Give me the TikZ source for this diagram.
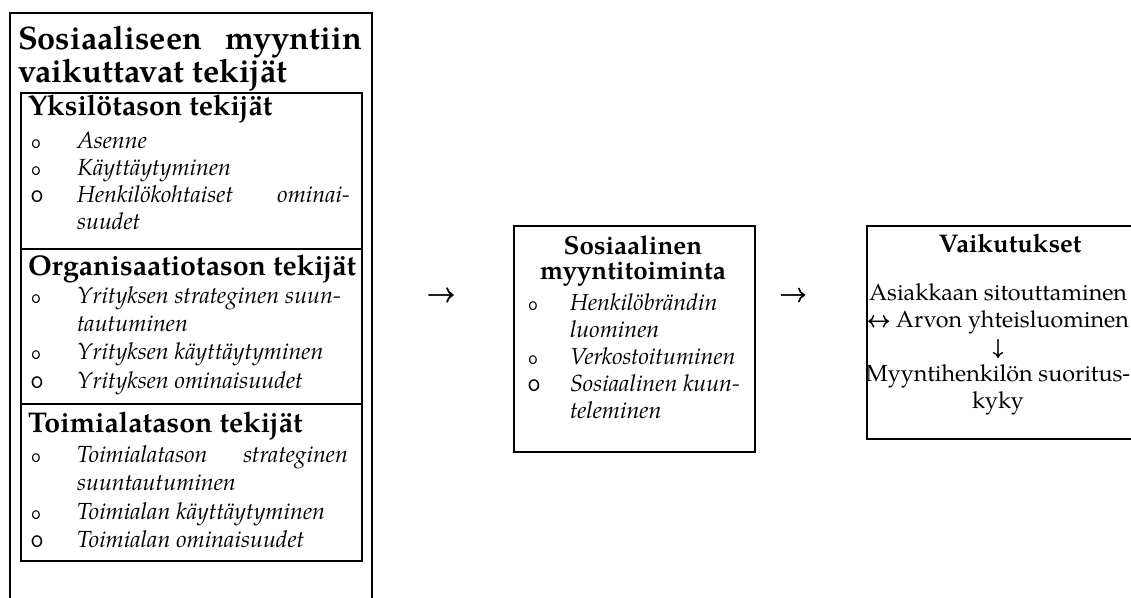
\documentclass[tikz,border=0pt]{standalone}
\usepackage{fontspec}
\setmainfont{texgyrepagella}[Extension=.otf,UprightFont=*-regular,BoldFont=*-bold,ItalicFont=*-italic,BoldItalicFont=*-bolditalic]
\newfontfamily\arrowfont{latinmodern-math}[Extension=.otf,FakeBold=2]
\newcommand\titlesz{\fontsize{32.5}{36}\selectfont}
\newcommand\headsz{\fontsize{28.5}{32}\selectfont}
\newcommand\midheadsz{\fontsize{26}{30}\selectfont}
\newcommand\bodysz{\fontsize{23.3}{28}\selectfont}
\tikzset{
  frame/.style={draw, line width=1.6pt, rectangle, inner sep=0pt, anchor=north west},
  txt/.style={inner sep=0pt, outer sep=0pt, anchor=base west},
  title/.style={txt, font=\titlesz\bfseries},
  head/.style={txt, font=\headsz\bfseries},
  midhead/.style={txt, anchor=base, font=\midheadsz\bfseries},
  item/.style={txt, font=\bodysz\itshape},
  body/.style={txt, anchor=base, font=\bodysz},
  bul/.style={inner sep=0pt, anchor=base, text height=1ex, text depth=0pt, font=\ttfamily\fontsize{20}{22}\selectfont},
  bigbul/.style={inner sep=0pt, anchor=base, text height=1ex, text depth=0pt, font=\ttfamily\fontsize{27}{30}\selectfont},
  arrowglyph/.style={inner sep=0pt, font=\arrowfont\fontsize{29}{32}\selectfont}
}
\begin{document}
\begin{tikzpicture}[x=1pt,y=-1pt]
\useasboundingbox (0,0) rectangle (1131,597);
\clip (0,0) rectangle (1131,597);
% boxes
\node[frame, minimum width=362pt, minimum height=600pt] (outer) at (9,12) {};
\node[frame, minimum width=341pt, minimum height=156pt] (ind) at (20,92) {};
\node[frame, minimum width=341pt, minimum height=155pt] (org) at (20,248) {};
\node[frame, minimum width=341pt, minimum height=157pt] (ala) at (20,403) {};
\node[frame, minimum width=241pt, minimum height=226pt] (act) at (513,225) {};
\node[frame, minimum width=280pt, minimum height=213pt] (eff) at (866,225) {};
% title
\node[title] (t1) at (18,49) {\makebox[344pt][s]{Sosiaaliseen myyntiin}};
\node[title] (t2) at (18,82) {vaikuttavat tekijät};
% individual level
\node[head] (h1) at (28,115) {Yksilötason tekijät};
\node[bul] (b11) at (36,148) {o};
\node[item] (i11) at (77,148) {Asenne};
\node[bul] (b12) at (36,175) {o};
\node[item] (i12) at (77,175) {Käyttäytyminen};
\node[bigbul] (b13) at (37,202) {o};
\node[item] (i13) at (77,202) {\makebox[273pt][s]{Henkilökohtaiset ominai-}};
\node[item] (i13b) at (77,229) {suudet};
% organisational level
\node[head] (h2) at (28,275) {Organisaatiotason tekijät};
\node[bul] (b21) at (36,303) {o};
\node[item] (i21) at (77,303) {Yrityksen strateginen suun-};
\node[item] (i21b) at (77,331) {tautuminen};
\node[bul] (b22) at (36,359) {o};
\node[item] (i22) at (77,359) {Yrityksen käyttäytyminen};
\node[bigbul] (b23) at (37,388) {o};
\node[item] (i23) at (77,388) {Yrityksen ominaisuudet};
% industry level
\node[head] (h3) at (28,432) {Toimialatason tekijät};
\node[bul] (b31) at (36,462) {o};
\node[item] (i31) at (77,462) {\makebox[271pt][s]{Toimialatason strateginen}};
\node[item] (i31b) at (77,490) {suuntautuminen};
\node[bul] (b32) at (36,519) {o};
\node[item] (i32) at (77,519) {Toimialan käyttäytyminen};
\node[bigbul] (b33) at (37,547) {o};
\node[item] (i33) at (77,547) {Toimialan ominaisuudet};
% arrows
\node[arrowglyph] (a1) at (441,295) {\resizebox{28pt}{!}{→}};
\node[arrowglyph] (a2) at (793,295) {\resizebox{27pt}{!}{→}};
% social selling activity
\node[midhead] (m1) at (633,254) {Sosiaalinen};
\node[midhead] (m2) at (633,279) {myyntitoiminta};
\node[bul] (mb1) at (533,310) {o};
\node[item] (mi1) at (570,310) {Henkilöbrändin};
\node[item] (mi1b) at (570,337) {luominen};
\node[bul] (mb2) at (533,364) {o};
\node[item] (mi2) at (570,364) {Verkostoituminen};
\node[bigbul] (mb3) at (534,391) {o};
\node[item] (mi3) at (570,391) {Sosiaalinen kuun-};
\node[item] (mi3b) at (570,418) {teleminen};
% effects
\node[txt, anchor=base, font=\fontsize{25.5}{30}\selectfont\bfseries] (e0) at (1010,252) {Vaikutukset};
\node[body] (e1) at (998,300) {Asiakkaan sitouttaminen};
\node[body] (e2) at (998,327) {{\arrowfont\resizebox{23pt}{!}{↔}} Arvon yhteisluominen};
\node[txt, anchor=base, font=\arrowfont\fontsize{21}{24}\selectfont] (e3) at (998,354) {↓};
\node[body] (e4) at (998,381) {Myyntihenkilön suoritus-};
\node[body] (e5) at (998,408) {kyky};
\end{tikzpicture}
\end{document}
